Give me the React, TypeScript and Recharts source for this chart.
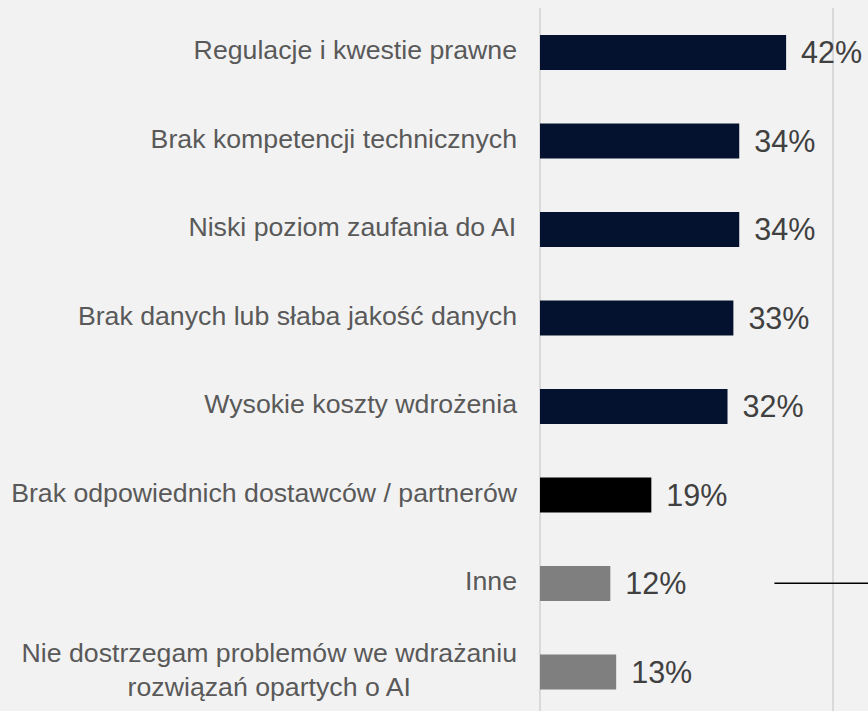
import { Bar, BarChart, CartesianGrid, Cell, LabelList, ReferenceLine, XAxis, YAxis } from "recharts";

// Obstacles to AI adoption — share of respondents (%)
const categories = [
  "Regulacje i kwestie prawne",
  "Brak kompetencji technicznych",
  "Niski poziom zaufania do AI",
  "Brak danych lub słaba jakość danych",
  "Wysokie koszty wdrożenia",
  "Brak odpowiednich dostawców / partnerów",
  "Inne",
  "Nie dostrzegam problemów we wdrażaniu\nrozwiązań opartych o AI",
];
const values = [42, 34, 34, 33, 32, 19, 12, 13];
const xTicks = [0, 50];

// stray connector line next to "Inne" (data units)
const connectorFrom = 40;
const connectorTo = 56;

const data = categories.map((name, i) => ({ name, value: values[i] }));

const FONT = "'Liberation Sans', Arial, sans-serif";
const NAVY = "#04122f";
const BAR_FILL = [NAVY, NAVY, NAVY, NAVY, NAVY, "#000000", "#7f7f7f", "#7f7f7f"];

let ctx: CanvasRenderingContext2D | null = null;
function textWidth(s: string, size: number) {
  if (!ctx) ctx = document.createElement("canvas").getContext("2d");
  if (!ctx) return s.length * size * 0.5;
  ctx.font = `${size}px ${FONT}`;
  return ctx.measureText(s).width;
}

/* Right-aligned block; wrapped lines are centred under the widest one. */
function CategoryTick({ x, y, payload }: { x?: number; y?: number; payload?: { value: string } }) {
  const lines = String(payload?.value ?? "").split("\n");
  const size = 26.7;
  const lh = 34;
  const w = Math.max(...lines.map((l) => textWidth(l, size)));
  const cx = (x ?? 0) - w / 2;
  const y0 = (y ?? 0) - ((lines.length - 1) * lh) / 2 - 2;
  return (
    <text
      x={cx}
      y={y0}
      textAnchor="middle"
      dominantBaseline="central"
      fontSize={size}
      fontFamily={FONT}
      fill="#595959"
    >
      {lines.map((l, i) => (
        <tspan key={i} x={cx} y={y0 + i * lh}>
          {l}
        </tspan>
      ))}
    </text>
  );
}

export default function App() {
  return (
    <div
      style={{
        position: "absolute",
        left: 0,
        top: 0,
        width: 868,
        height: 711,
        overflow: "hidden",
        background: "#f2f2f2",
      }}
    >
      <BarChart
        width={868}
        height={724}
        data={data}
        layout="vertical"
        margin={{ top: 8, right: 35, bottom: 8, left: 0 }}
      >
        <CartesianGrid horizontal={false} vertical stroke="#d9d9d9" strokeWidth={2} />
        <XAxis type="number" domain={[0, 50]} ticks={xTicks} hide />
        <YAxis
          type="category"
          dataKey="name"
          width={540}
          axisLine={false}
          tickLine={false}
          tickSize={0}
          tickMargin={23}
          interval={0}
          tick={<CategoryTick />}
        />
        <Bar dataKey="value" barSize={35} isAnimationActive={false}>
          {data.map((_, i) => (
            <Cell key={i} fill={BAR_FILL[i]} />
          ))}
          <LabelList
            dataKey="value"
            position="right"
            offset={15}
            formatter={(v: number) => `${v}%`}
            style={{ fontSize: 30.5, fontFamily: FONT, fill: "#404040" }}
          />
        </Bar>
        <ReferenceLine
          segment={[
            { x: connectorFrom, y: "Inne" },
            { x: connectorTo, y: "Inne" },
          ]}
          stroke="#000000"
          strokeWidth={1.5}
          ifOverflow="visible"
        />
      </BarChart>
    </div>
  );
}
